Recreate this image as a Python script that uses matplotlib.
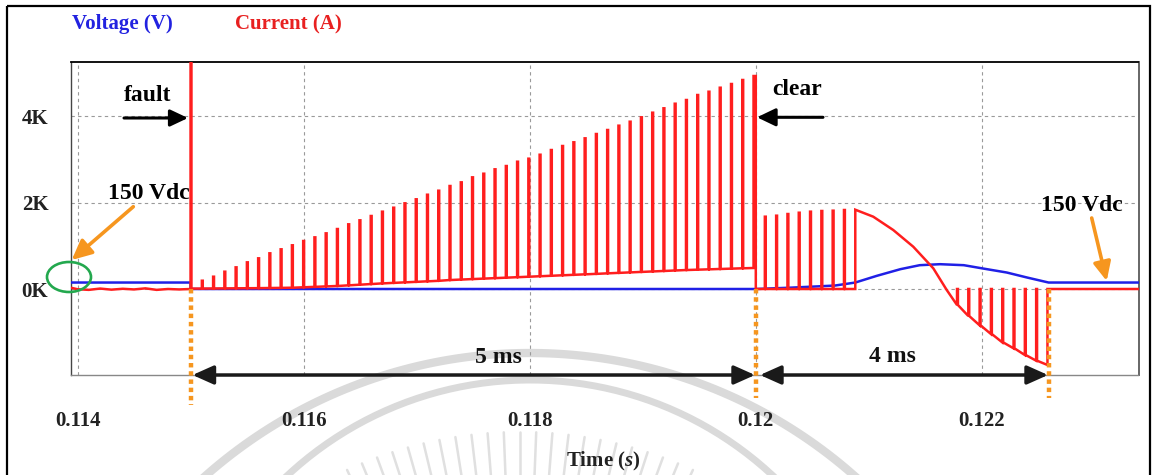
import numpy as np
import matplotlib
matplotlib.use("Agg")
import matplotlib.pyplot as plt
from matplotlib.patches import Ellipse, Rectangle, FancyArrowPatch
from matplotlib.lines import Line2D
from matplotlib.transforms import Affine2D

plt.rcParams['font.family'] = ['Liberation Serif', 'DejaVu Serif']
plt.rcParams['font.weight'] = 'bold'
plt.rcParams['mathtext.fontset'] = 'custom'
plt.rcParams['mathtext.it'] = 'Liberation Serif:italic'
plt.rcParams['mathtext.rm'] = 'Liberation Serif'

# ---------------- data ----------------
# Voltage (V)
volt_t = [0.11394, 0.11500, 0.11500, 0.12000, 0.12030, 0.12070, 0.12088,
          0.12107, 0.12128, 0.12145, 0.12163, 0.12184, 0.12201, 0.12222,
          0.12240, 0.12259, 0.12339]
volt_v = [150, 150, 0, 0, 30, 80, 150, 305, 460, 552, 575, 552, 475, 382,
          266, 150, 150]

# Current (A): pre-fault (small ripple around zero)
pre_t = [0.11394, 0.11400, 0.11410, 0.11420, 0.11430, 0.11440, 0.11450,
         0.11460, 0.11470, 0.11480, 0.11490, 0.11500]
pre_i = [30, -5, -20, 10, -15, 5, -10, 15, -20, 0, -10, 0]

fault_t = 0.11500
fault_peak = 9000          # off scale
clear_t = 0.12000
end_t = 0.12339

# switching pulses during the fault (10 kHz)
ramp_t = np.linspace(0.11510, 0.11998, 50)
ramp_peak = [192, 285, 401, 502, 618, 711, 827, 920, 1013, 1112,
             1197, 1290, 1390, 1499, 1592, 1692, 1792, 1884, 1986, 2079,
             2185, 2278, 2387, 2472, 2588, 2672, 2774, 2850, 2950, 3020,
             3112, 3221, 3314, 3400, 3492, 3592, 3685, 3785, 3877, 3979,
             4086, 4188, 4294, 4380, 4496, 4572, 4665, 4751, 4844, 4936]
ramp_base = [10, 12, 14, 16, 18, 20, 23, 26, 30, 40,
             50, 60, 70, 85, 100, 115, 130, 142, 154, 166,
             178, 190, 208, 219, 230, 241, 252, 263, 274, 285,
             296, 307, 318, 329, 340, 351, 363, 374, 385, 396,
             407, 418, 429, 440, 448, 456, 464, 472, 480, 487]

# pulses after clearing
post_t = np.linspace(0.12008, 0.12088, 9)
post_peak = [1676, 1699, 1738, 1768, 1792, 1808, 1815, 1831, 1838]

# resonant decay of the current
decay_t = [0.12088, 0.121039, 0.121216, 0.121393, 0.121570, 0.121689]
decay_i = [1838, 1676, 1367, 980, 480, -23]

# negative pulses
neg_t = np.linspace(0.12178, 0.12258, 9)
neg_env = [-371, -626, -842, -1043, -1236, -1375, -1530, -1661, -1761]

x_ticks = [0.114, 0.116, 0.118, 0.120, 0.122]
x_labels = ['0.114', '0.116', '0.118', '0.12', '0.122']
y_ticks = [0, 2000, 4000]
y_labels = ['0K', '2K', '4K']

# ---------------- build current trace ----------------
pulse_w = 0.000008
cur_t, cur_i = list(pre_t), list(pre_i)
cur_t += [fault_t, fault_t, fault_t + pulse_w, fault_t + pulse_w]
cur_i += [pre_i[-1], fault_peak, fault_peak, ramp_base[0]]
n = len(ramp_t)
for k, (t, b, p) in enumerate(zip(ramp_t, ramp_base, ramp_peak)):
    if k < n - 1:
        cur_t += [t, t, t + pulse_w, t + pulse_w]
        cur_i += [b, p, p, b]
    else:
        cur_t += [t, t, clear_t, clear_t]
        cur_i += [b, p, p, 0]
n = len(post_t)
for k, (t, p) in enumerate(zip(post_t, post_peak)):
    if k < n - 1:
        cur_t += [t, t, t + pulse_w, t + pulse_w]
        cur_i += [0, p, p, 0]
    else:
        cur_t += [t, t]
        cur_i += [0, p]
cur_t += decay_t[1:]
cur_i += decay_i[1:]
n = len(neg_t)
for k, (t, e) in enumerate(zip(neg_t, neg_env)):
    if k < n - 1:
        cur_t += [t, t, t + pulse_w, t + pulse_w]
        cur_i += [e, 0, 0, e]
    else:
        cur_t += [t, t]
        cur_i += [e, 0]
cur_t += [end_t]
cur_i += [0]

# ---------------- figure ----------------
W, H, DPI = 1152, 475, 100
fig = plt.figure(figsize=(W / DPI, H / DPI), dpi=DPI)
fig.patch.set_facecolor('white')
pix = Affine2D().scale(1.0 / W, -1.0 / H).translate(0, 1) + fig.transFigure

# watermark (faint logo arcs and rays)
wm = '#dadada'
th = np.linspace(np.pi, 2 * np.pi, 200)
for (cx, cy, r, lw) in [(530, 843, 490, 6), (530, 736, 356, 5)]:
    fig.add_artist(Line2D(cx + r * np.cos(th), cy + r * np.sin(th),
                          transform=pix, color=wm, lw=lw, zorder=-5))
for a in np.linspace(np.radians(243), np.radians(297), 25):
    fig.add_artist(Line2D([520 + 330 * np.cos(a), 520 + 413 * np.cos(a)],
                          [845 + 330 * np.sin(a), 845 + 413 * np.sin(a)],
                          transform=pix, color='#e0e0e0', lw=1.8, zorder=-5,
                          solid_capstyle='round'))

# outer frame
fig.add_artist(Rectangle((7, 6), 1143, 500, transform=pix, fill=False,
                         ec='black', lw=1.6, zorder=-4))

ax = fig.add_axes([71 / W, 1 - 375 / H, (1138.5 - 71) / W, (375 - 62.3) / H])
ax.set_facecolor('none')
ax.set_xlim(0.1139425, 0.1233853)
ax.set_ylim(-1993, 5254)

ax.set_xticks(x_ticks)
ax.set_xticklabels(x_labels)
ax.set_yticks(y_ticks)
ax.set_yticklabels(y_labels)
ax.tick_params(axis='both', length=0, labelsize=15, colors='#222222')
ax.tick_params(axis='x', pad=25.8)
ax.tick_params(axis='y', pad=16.3)
for lab in ax.get_xticklabels() + ax.get_yticklabels():
    lab.set_fontweight('bold')
ax.grid(True, color='#9a9a9a', lw=0.8, linestyle=(0, (3, 3)))
ax.set_axisbelow(True)

ax.spines['top'].set_color('black')
ax.spines['top'].set_linewidth(1.3)
ax.spines['left'].set_color('#444444')
ax.spines['left'].set_linewidth(1.0)
ax.spines['right'].set_color('#666666')
ax.spines['right'].set_linewidth(1.4)
ax.spines['bottom'].set_color('#888888')
ax.spines['bottom'].set_linewidth(1.0)

ax.set_xlabel(r'Time ($s$)', fontsize=15, fontweight='bold', color='#222222')
ax.xaxis.label.set_va('baseline')
ax.xaxis.set_label_coords(603.7, 466, transform=pix)

# traces
ax.plot(volt_t, volt_v, color='#2020e6', lw=1.8, zorder=3)
ax.plot(cur_t, cur_i, color='#ff1e1e', lw=1.8, zorder=4, solid_joinstyle='miter')

# legend-like titles
fig.text(71.5, 29.3, 'Voltage (V)', transform=pix, color='#2222e0',
         fontsize=15, fontweight='bold', va='baseline', ha='left')
fig.text(235, 29.3, 'Current (A)', transform=pix, color='#e82020',
         fontsize=15, fontweight='bold', va='baseline', ha='left')

# orange dotted event markers
orange = '#f6961f'
for (t, ybot) in [(fault_t, -2688), (clear_t, -2526), (neg_t[-1] + 0.00001, -2526)]:
    ax.add_line(Line2D([t, t], [0, ybot], color=orange, lw=3.2,
                       linestyle=(0, (1.0, 0.85)), dash_capstyle='butt',
                       clip_on=False, zorder=6))

def arrow(p0, p1, style, color, lw, ms, trans, z=7):
    a = FancyArrowPatch(p0, p1, arrowstyle=style, color=color, lw=lw,
                        mutation_scale=ms, shrinkA=0, shrinkB=0,
                        transform=trans, zorder=z, clip_on=False)
    fig.add_artist(a)

# fault / clear arrows
arrow((124, 118), (188, 118), '-|>,head_length=0.72,head_width=0.34', 'black', 2.2, 15, pix)
arrow((823, 117.3), (757, 117.3), '-|>,head_length=0.75,head_width=0.36', 'black', 2.2, 15, pix)
fig.text(147.5, 101, 'fault', transform=pix, fontsize=17, fontweight='bold',
         ha='center', va='baseline', color='black')
fig.text(797, 95, 'clear', transform=pix, fontsize=17, fontweight='bold',
         ha='center', va='baseline', color='black')

# 150 Vdc annotations
fig.text(149, 199.3, '150 Vdc', transform=pix, fontsize=17, fontweight='bold',
         ha='center', va='baseline', color='black')
arrow((133.3, 206.7), (71.7, 260), '-|>,head_length=0.8,head_width=0.38', orange, 2.6, 15, pix)
fig.add_artist(Ellipse((69, 277), 44, 30, transform=pix, fill=False,
                       ec='#23a84e', lw=1.9, zorder=7))
fig.text(1082, 211, '150 Vdc', transform=pix, fontsize=17, fontweight='bold',
         ha='center', va='baseline', color='black')
arrow((1091.7, 218), (1106.7, 281), '-|>,head_length=0.75,head_width=0.35', orange, 2.6, 15, pix)

# duration arrows
arrow((192.5, 375), (755, 375), '<|-|>,head_length=0.85,head_width=0.38', '#1a1a1a', 2.5, 15, pix)
arrow((760, 375), (1048, 375), '<|-|>,head_length=0.85,head_width=0.38', '#1a1a1a', 2.5, 15, pix)
fig.text(498, 363, '5 ms', transform=pix, fontsize=17, fontweight='bold',
         ha='center', va='baseline', color='#111111')
fig.text(892, 361.5, '4 ms', transform=pix, fontsize=17, fontweight='bold',
         ha='center', va='baseline', color='#111111')

fig.savefig('out.png', dpi=DPI, facecolor='white')
